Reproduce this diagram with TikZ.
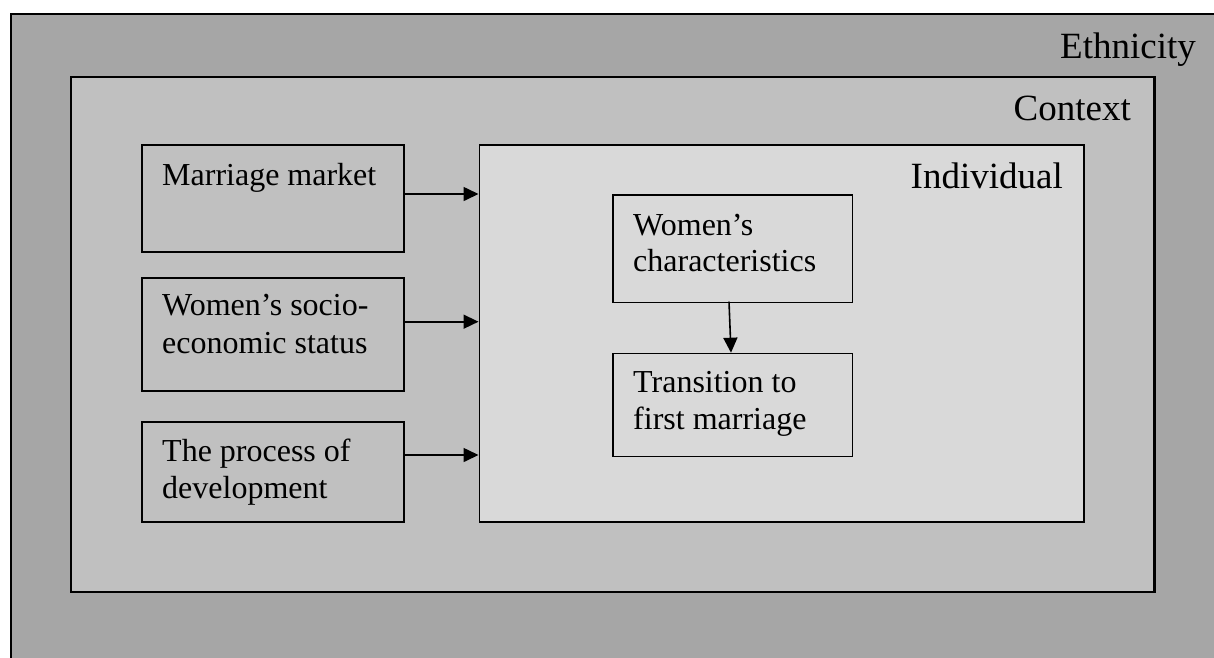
\documentclass[tikz,border=0pt]{standalone}
\usepackage{fontspec}
\setmainfont{Liberation Serif}
\usetikzlibrary{arrows.meta}
\definecolor{ethgray}{HTML}{A6A6A6}
\definecolor{ctxgray}{HTML}{C0C0C0}
\definecolor{indgray}{HTML}{D9D9D9}
\tikzset{
  region/.style={draw=black, line width=2.2pt},
  boxnode/.style={draw=black, line width=1.6pt, rectangle, inner sep=0pt, anchor=north west},
  lbl/.style={inner sep=0pt, font=\fontsize{32}{38}\selectfont},
  biglbl/.style={inner sep=0pt, anchor=base east, font=\fontsize{37}{44}\selectfont},
  arr/.style={line width=1.6pt, -{Triangle[length=15pt,width=14pt]}},
}
\begin{document}
\begin{tikzpicture}[x=1pt,y=-1pt]
\useasboundingbox (0,0) rectangle (1214,657);
\clip (0,0) rectangle (1214,657);
\fill[white] (0,0) rectangle (1214,657);
% Ethnicity
\node[region, fill=ethgray, boxnode, line width=2.2pt, minimum width=1250pt, minimum height=700pt] (eth) at (9.5,12.5) {};
\node[biglbl] (ethl) at (1196,58) {Ethnicity};
% Context
\node[region, fill=ctxgray, boxnode, line width=2.6pt, minimum width=1083.5pt, minimum height=515pt] (ctx) at (69.5,75.5) {};
\node[biglbl] (ctxl) at (1131,120) {Context};
% Individual
\node[fill=indgray, boxnode, line width=1.8pt, minimum width=604.5pt, minimum height=377pt] (ind) at (478.5,144) {};
\node[biglbl] (indl) at (1063,188) {Individual};
% Left boxes
\node[boxnode, minimum width=262pt, minimum height=107pt] (mm) at (141,144) {};
\node[lbl, anchor=base west] (mml) at (162,185) {Marriage market};
\node[boxnode, minimum width=262pt, minimum height=113pt] (ses) at (141,277) {};
\node[lbl, anchor=base west] (sesl1) at (162,315) {Women’s socio-};
\node[lbl, anchor=base west] (sesl2) at (162,353) {economic status};
\node[boxnode, minimum width=262pt, minimum height=100pt] (dev) at (141,421) {};
\node[lbl, anchor=base west] (devl1) at (162,461) {The process of};
\node[lbl, anchor=base west] (devl2) at (162,498) {development};
% Inner boxes
\node[boxnode, minimum width=239.5pt, minimum height=107.5pt] (wc) at (612.3,194) {};
\node[lbl, anchor=base west] (wcl1) at (633,235) {Women’s};
\node[lbl, anchor=base west] (wcl2) at (633,271) {characteristics};
\node[boxnode, minimum width=239.5pt, minimum height=103pt] (tr) at (612.3,352.7) {};
\node[lbl, anchor=base west] (trl1) at (633,392.7) {Transition to};
\node[lbl, anchor=base west] (trl2) at (633,429) {first marriage};
% Connectors
\coordinate (a1) at (478.5,194);
\coordinate (a2) at (478.5,321.7);
\coordinate (a3) at (478.5,455);
\draw[arr] (mm.east |- a1) -- (a1);
\draw[arr] (ses.east |- a2) -- (a2);
\draw[arr] (dev.east |- a3) -- (a3);
\coordinate (b1) at (729,301.7);
\coordinate (b2) at (731,352.7);
\draw[arr] (b1) -- (b2);
\end{tikzpicture}
\end{document}
